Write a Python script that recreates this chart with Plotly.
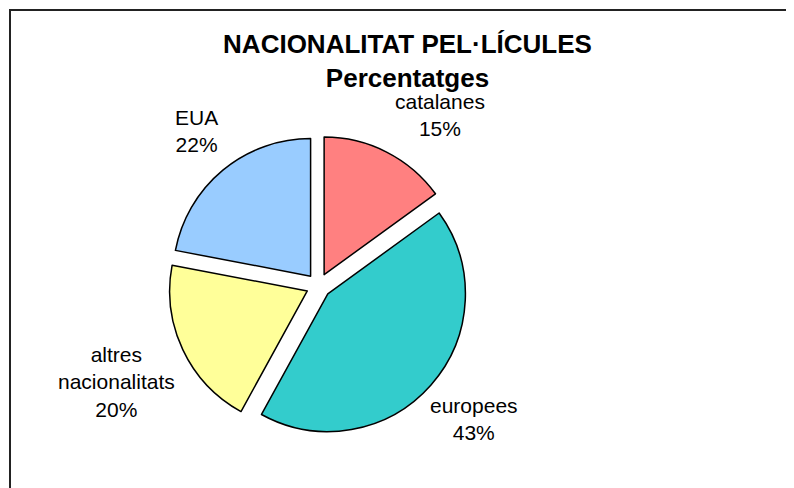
import plotly.graph_objects as go

labels = ["catalanes", "europees", "altres<br>nacionalitats", "EUA"]
values = [15, 43, 20, 22]
colors = ["#FF8080", "#33CCCC", "#FFFF99", "#99CCFF"]
pulls = [0.09, 0.09, 0.09, 0.09]

W, H = 794, 488
OFF = 8  # page offset of the figure (body margin)

def px(x):
    return (x - OFF) / W

def py(y):
    return 1 - (y - OFF) / H

# pie centre (page pixels) and half-size of its domain
cx, cy = 318.5, 285.7
half = 150

# label centres (page pixels), one per slice
label_pos = [(440, 115), (474, 419), (116, 382), (196, 131)]

FONT = "Liberation Sans, Arial, Helvetica, sans-serif"

fig = go.Figure(go.Pie(
    labels=labels,
    values=values,
    marker=dict(colors=colors, line=dict(color="black", width=1.5)),
    pull=pulls,
    sort=False,
    direction="clockwise",
    rotation=0,
    textinfo="none",
    hoverinfo="label+percent",
    showlegend=False,
    domain=dict(x=[px(cx - half), px(cx + half)],
                y=[py(cy + half), py(cy - half)]),
))

total = sum(values)
annotations = []
for lab, v, (lx, ly) in zip(labels, values, label_pos):
    pct = round(v / total * 100)
    annotations.append(dict(
        text=f"{lab}<br>{pct}%",
        x=px(lx), y=py(ly), xref="paper", yref="paper",
        xanchor="center", yanchor="middle",
        showarrow=False, align="center",
        font=dict(family=FONT, size=21, color="black"),
    ))

fig.update_layout(
    width=W, height=H,
    margin=dict(l=0, r=0, t=0, b=0),
    paper_bgcolor="white",
    plot_bgcolor="white",
    title=dict(
        text="<b>NACIONALITAT PEL·LÍCULES<br>Percentatges</b>",
        x=px(407.5), xanchor="center",
        y=py(53), yanchor="top",
        font=dict(family=FONT, size=26, color="black"),
    ),
    annotations=annotations,
    shapes=[dict(type="rect", xref="paper", yref="paper",
                 x0=px(10), x1=1.05, y0=-0.05, y1=py(10),
                 line=dict(color="#222222", width=2), fillcolor="rgba(0,0,0,0)")],
)

fig.write_html("out.html")
